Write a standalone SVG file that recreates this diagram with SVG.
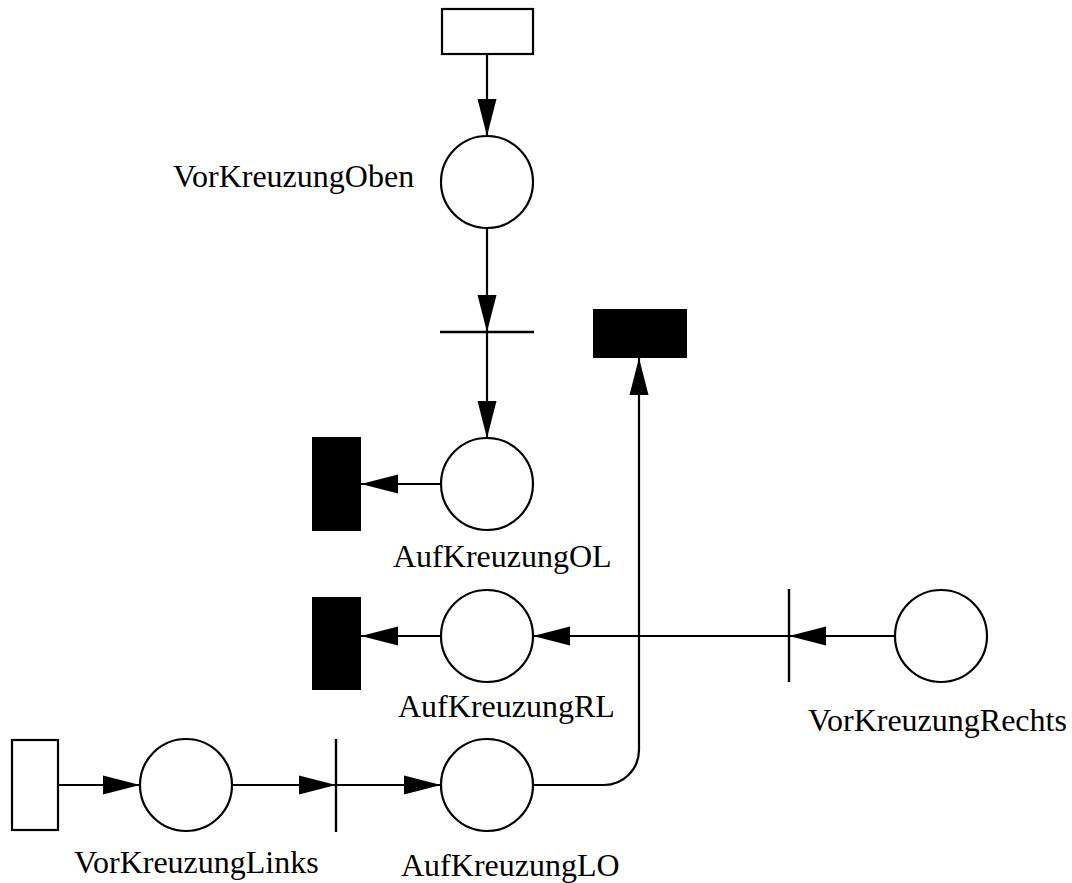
<svg xmlns="http://www.w3.org/2000/svg" width="1072" height="883" viewBox="0 0 1072 883">
<style>
.place{fill:#fff;stroke:#000;stroke-width:2.2}
.trans{stroke:#000;stroke-width:2.4;fill:none}
.box{fill:#fff;stroke:#000;stroke-width:2.2}
.blk{fill:#000;stroke:none}
.arc{stroke:#000;stroke-width:2.2;fill:none}
.lbl{font-family:"Liberation Serif","Times New Roman",serif;font-size:32px;fill:#000}
</style>
<defs>
<marker id="ah" markerUnits="userSpaceOnUse" markerWidth="38" markerHeight="20" refX="37" refY="10" orient="auto" viewBox="0 0 38 20">
<path d="M0,0.5 L37,10 L0,19.5 z" fill="#000"/>
</marker>
</defs>
<rect width="1072" height="883" fill="#fff"/>
<g id="connectors">
<path class="arc" d="M487,54 V136" marker-end="url(#ah)"/>
<path class="arc" d="M487,228 V332" marker-end="url(#ah)"/>
<path class="arc" d="M487,332 V438" marker-end="url(#ah)"/>
<path class="arc" d="M441,484 H361" marker-end="url(#ah)"/>
<path class="arc" d="M441,636 H361" marker-end="url(#ah)"/>
<path class="arc" d="M789,636 H533" marker-end="url(#ah)"/>
<path class="arc" d="M895,636 H789" marker-end="url(#ah)"/>
<path class="arc" d="M58,785 H140" marker-end="url(#ah)"/>
<path class="arc" d="M232,785 H336" marker-end="url(#ah)"/>
<path class="arc" d="M336,785 H441" marker-end="url(#ah)"/>
<path class="arc" d="M533,785 H604 A35,35 0 0 0 639,750 V358" marker-end="url(#ah)"/>
</g>
<g id="src-top"><rect class="box" x="442" y="9" width="91" height="45"/></g>
<g id="VorKreuzungOben"><circle class="place" cx="487" cy="182" r="46"/><text class="lbl" x="173" y="187">VorKreuzungOben</text></g>
<g id="t-top"><line class="trans" x1="440" y1="332" x2="534" y2="332"/></g>
<g id="sink-top"><rect class="blk" x="593" y="309" width="94" height="49"/></g>
<g id="AufKreuzungOL"><circle class="place" cx="487" cy="484" r="46"/><text class="lbl" x="393" y="567">AufKreuzungOL</text></g>
<g id="sink-ol"><rect class="blk" x="312" y="437" width="49" height="94"/></g>
<g id="AufKreuzungRL"><circle class="place" cx="487" cy="636" r="46"/><text class="lbl" x="398" y="717">AufKreuzungRL</text></g>
<g id="sink-rl"><rect class="blk" x="312" y="597" width="49" height="93"/></g>
<g id="t-right"><line class="trans" x1="789" y1="589" x2="789" y2="682"/></g>
<g id="VorKreuzungRechts"><circle class="place" cx="941" cy="636" r="46"/><text class="lbl" x="808" y="731">VorKreuzungRechts</text></g>
<g id="src-left"><rect class="box" x="12" y="740" width="46" height="90"/></g>
<g id="VorKreuzungLinks"><circle class="place" cx="186" cy="785" r="46"/><text class="lbl" x="74" y="873">VorKreuzungLinks</text></g>
<g id="t-left"><line class="trans" x1="336" y1="739" x2="336" y2="832"/></g>
<g id="AufKreuzungLO"><circle class="place" cx="487" cy="785" r="46"/><text class="lbl" x="401" y="876">AufKreuzungLO</text></g>
</svg>
